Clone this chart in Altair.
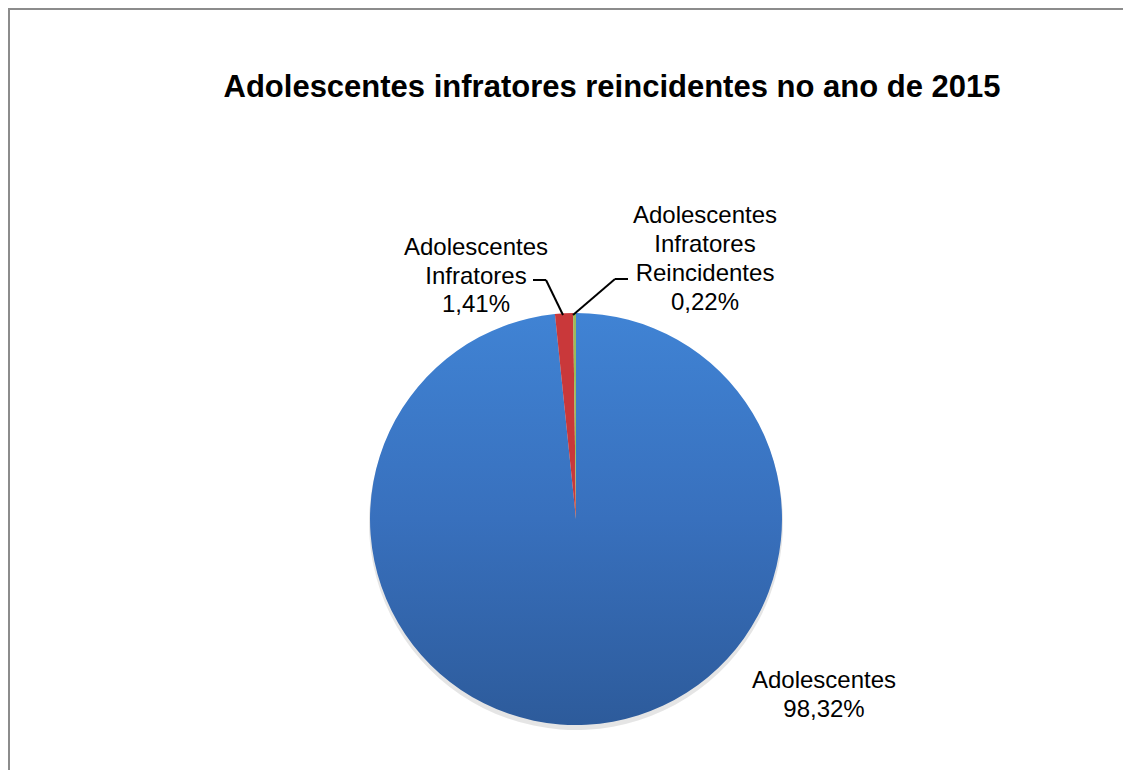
import altair as alt
import pandas as pd

# ---- data ----
categories = ["Adolescentes", "Adolescentes Infratores", "Adolescentes Infratores Reincidentes"]
values = [98.32, 1.41, 0.22]
label_texts = ["Adolescentes\n98,32%", "Adolescentes\nInfratores\n1,41%", "Adolescentes\nInfratores\nReincidentes\n0,22%"]
order_idx = [0, 1, 2]
title_text = "Adolescentes infratores reincidentes no ano de 2015"

df = pd.DataFrame({"cat": categories, "val": values, "lab": label_texts, "idx": order_idx})

W, H = 1115, 762
CX, CY, R = 568, 511, 206
FONT = "Liberation Sans, Arial, sans-serif"

blue_grad = {
    "gradient": "linear",
    "x1": 0, "y1": 0, "x2": 0, "y2": 1,
    "stops": [
        {"offset": 0, "color": "#4083d4"},
        {"offset": 0.5, "color": "#3870bd"},
        {"offset": 1, "color": "#2d5b9b"},
    ],
}

base = alt.Chart(df)

shadow = base.mark_arc(radius=R + 1, color="#000000", opacity=0.10).encode(
    theta=alt.Theta("val:Q", stack=True),
    x=alt.value(CX), y=alt.value(CY + 4),
)

pie = base.mark_arc(radius=R).encode(
    theta=alt.Theta("val:Q", stack=True),
    order=alt.Order("idx:Q"),
    x=alt.value(CX), y=alt.value(CY),
    color={
        "condition": [
            {"test": "datum.cat === 'Adolescentes'", "value": blue_grad},
            {"test": "datum.cat === 'Adolescentes Infratores'", "value": "#c9383a"},
        ],
        "value": "#9bbb59",
    },
)

def label(cat, x, y, lh):
    return base.transform_filter(alt.datum.cat == cat).mark_text(
        font=FONT, fontSize=24, color="#000000", align="center",
        baseline="alphabetic", lineBreak="\n", lineHeight=lh,
    ).encode(text="lab:N", x=alt.value(x), y=alt.value(y))

lab_blue = label("Adolescentes", 816, 680, 28.5)
lab_red = label("Adolescentes Infratores", 468, 247, 28.5)
lab_green = label("Adolescentes Infratores Reincidentes", 697, 215, 29)

def seg(x1, y1, x2, y2):
    return alt.Chart(df.head(1)).mark_rule(color="#000000", strokeWidth=2).encode(
        x=alt.value(x1), y=alt.value(y1), x2=alt.value(x2), y2=alt.value(y2)
    )

leaders = [
    seg(525, 272, 538, 272), seg(538, 272, 555, 307),
    seg(607, 271, 620, 271), seg(607, 271, 565, 307),
]

title = alt.Chart(df.head(1)).mark_text(
    font=FONT, fontSize=31, fontWeight="bold", color="#000000",
    align="center", baseline="alphabetic",
).encode(text=alt.value(title_text), x=alt.value(604), y=alt.value(89))

border = [
    alt.Chart(df.head(1)).mark_rule(color="#8c8c8c", strokeWidth=2).encode(
        x=alt.value(0), x2=alt.value(W), y=alt.value(1)),
    alt.Chart(df.head(1)).mark_rule(color="#8c8c8c", strokeWidth=2).encode(
        x=alt.value(1), y=alt.value(0), y2=alt.value(H)),
]

chart = alt.layer(shadow, pie, lab_blue, lab_red, lab_green, *leaders, title, *border).properties(
    width=W, height=H, padding=0, autosize=alt.AutoSizeParams(type="none")
).configure_view(stroke="transparent", strokeWidth=0).configure(background="#ffffff")

chart.save("out.html", embed_options={"renderer": "svg", "actions": False})
